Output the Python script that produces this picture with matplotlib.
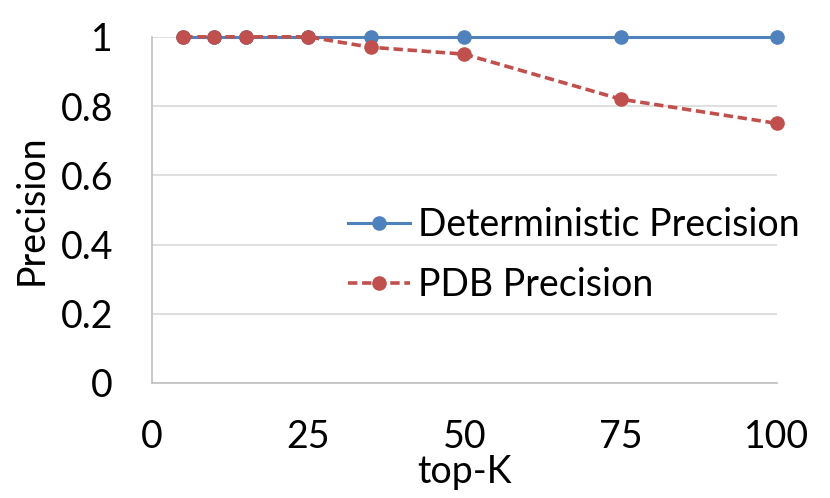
import matplotlib
matplotlib.use("Agg")
import matplotlib.pyplot as plt

topk = [5, 10, 15, 25, 35, 50, 75, 100]
deterministic = [1, 1, 1, 1, 1, 1, 1, 1]
pdb = [1, 1, 1, 1, 0.97, 0.95, 0.82, 0.75]
xticks = [0, 25, 50, 75, 100]
yticks = [0, 0.2, 0.4, 0.6, 0.8, 1]
ytick_labels = ["0", "0.2", "0.4", "0.6", "0.8", "1"]

plt.rcParams['font.family'] = ['Lato', 'DejaVu Sans']
FS = 27

fig = plt.figure(figsize=(8.3, 4.98), dpi=100)
ax = fig.add_axes([0.183, 0.231, 0.753, 0.695])

blue = "#4F81BD"
red = "#C0504D"
ax.plot(topk, deterministic, color=blue, lw=2.2, marker='o', ms=9.5,
        label="Deterministic Precision", clip_on=False, zorder=3)
ax.plot(topk, pdb, color=red, lw=2.6, ls=(0, (2.6, 1.3)), marker='o', ms=9.5,
        label="PDB Precision", clip_on=False, zorder=4)

ax.set_xlim(0, 100)
ax.set_ylim(0, 1)
ax.set_xticks(xticks)
ax.set_yticks(yticks)
ax.set_yticklabels(ytick_labels)
ax.tick_params(axis='both', length=0, labelsize=FS)
ax.tick_params(axis='x', pad=26)
ax.tick_params(axis='y', pad=28)
ax.grid(axis='y', color='#d9d9d9', lw=1.2)
ax.set_axisbelow(True)
for s in ['top', 'right']:
    ax.spines[s].set_visible(False)
for s in ['left', 'bottom']:
    ax.spines[s].set_color('#bfbfbf')
    ax.spines[s].set_linewidth(1.2)

ax.set_xlabel("top-K", fontsize=FS, labelpad=-1)
ax.set_ylabel("Precision", fontsize=FS, labelpad=8)

leg = ax.legend(loc='center left', bbox_to_anchor=(0.29, 0.37), frameon=False,
                fontsize=FS, handlelength=1.65, handletextpad=0.21,
                labelspacing=0.65, borderaxespad=0)

fig.savefig("out.png", dpi=100)
